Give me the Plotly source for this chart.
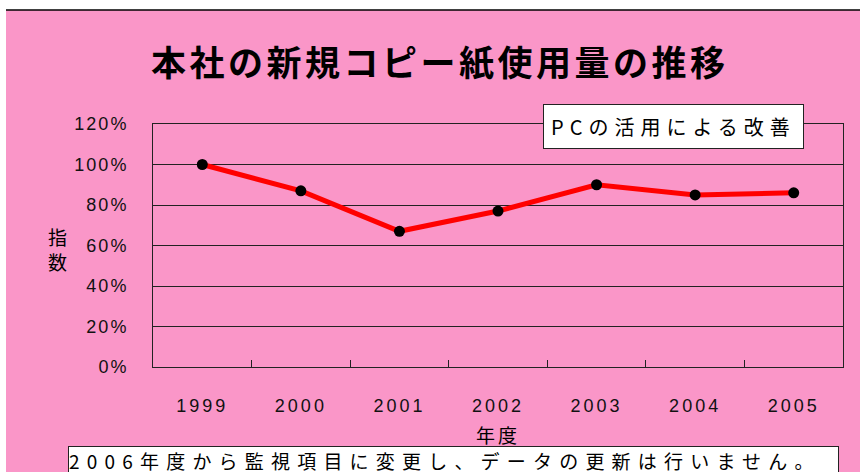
import plotly.graph_objects as go

years = ["1999", "2000", "2001", "2002", "2003", "2004", "2005"]
index_values = [1.00, 0.87, 0.67, 0.77, 0.90, 0.85, 0.86]
y_ticks = [0, 0.2, 0.4, 0.6, 0.8, 1.0, 1.2]
y_tick_labels = ["0%", "20%", "40%", "60%", "80%", "100%", "120%"]

title_text = "本社の新規コピー紙使用量の推移"
note_text = "PCの活用による改善"
footer_text = "2006年度から監視項目に変更し、データの更新は行いません。"
x_title = "年度"
y_title = "指数"

W, H = 860, 472
L, R, T, B = 153, 843, 124, 367
PINK = "#FA96C8"


def px(x):
    return (x - L) / (R - L)


def py(y):
    return (B - y) / (B - T)


def spaced(s, sp):
    return f'<span style="letter-spacing:{sp}px">{s}</span>'


fig = go.Figure()
fig.add_trace(go.Scatter(
    x=years, y=index_values, mode="lines+markers",
    line=dict(color="#FF0000", width=5),
    marker=dict(color="#000000", size=11),
    showlegend=False, hoverinfo="skip",
))

fig.update_layout(
    width=W, height=H,
    margin=dict(l=L, r=W - R, t=T, b=H - B),
    paper_bgcolor="white",
    plot_bgcolor=PINK,
    font=dict(family="Liberation Sans, Noto Sans CJK JP", color="#000000"),
    shapes=[
        dict(type="rect", xref="paper", yref="paper", layer="below",
             x0=px(6), x1=px(870), y0=py(480), y1=py(10),
             fillcolor=PINK, line=dict(width=0)),
        dict(type="line", xref="paper", yref="paper",
             x0=px(6), x1=px(870), y0=py(10), y1=py(10),
             line=dict(color="#000000", width=1.5)),
    ],
)

fig.update_xaxes(
    type="category",
    tickmode="array", tickvals=years,
    ticktext=[spaced(y, 3) for y in years],
    tickson="boundaries", ticks="inside", ticklen=7, tickcolor="#222",
    showline=True, linecolor="#222", linewidth=1, mirror=True,
    showgrid=False, zeroline=False,
    tickfont=dict(size=18, family="Liberation Sans", color="#111"),
    ticklabelstandoff=22,
    range=[-0.5, 6.5],
)
fig.update_yaxes(
    range=[0, 1.2],
    tickmode="array", tickvals=y_ticks,
    ticktext=[spaced(t, 2) for t in y_tick_labels],
    ticks="", showline=True, linecolor="#222", linewidth=1, mirror=True,
    showgrid=True, gridcolor="#222", gridwidth=1, zeroline=False,
    tickfont=dict(size=18, family="Liberation Sans", color="#111"),
    ticklabelstandoff=20,
)

fig.add_annotation(
    xref="paper", yref="paper", x=px(440), y=py(61),
    xanchor="center", yanchor="middle", showarrow=False,
    text=spaced("<b>" + title_text + "</b>", 3.5),
    font=dict(size=35, family="Noto Sans CJK JP", color="#000"),
)
fig.add_annotation(
    xref="paper", yref="paper", x=px(543), y=py(104),
    xanchor="left", yanchor="top", showarrow=False,
    text=spaced(note_text, 6), align="left",
    font=dict(size=20, family="Noto Sans CJK JP", color="#000"),
    bgcolor="white", bordercolor="#222", borderwidth=1, borderpad=7,
)
fig.add_annotation(
    xref="paper", yref="paper", x=px(498), y=py(434),
    xanchor="center", yanchor="middle", showarrow=False,
    text=spaced(x_title, 3),
    font=dict(size=19, family="Noto Sans CJK JP", color="#000"),
)
fig.add_annotation(
    xref="paper", yref="paper", x=px(57), y=py(249),
    xanchor="center", yanchor="middle", showarrow=False,
    text=y_title[0] + "<br>" + y_title[1],
    font=dict(size=19, family="Noto Sans CJK JP", color="#000"),
)
fig.add_annotation(
    xref="paper", yref="paper", x=px(68), y=py(446),
    xanchor="left", yanchor="top", showarrow=False,
    text=spaced(footer_text, 7.2), align="left", width=769,
    font=dict(size=19, family="Noto Sans CJK JP", color="#000"),
    bgcolor="white", bordercolor="#222", borderwidth=1, borderpad=0,
)

fig.write_html("out.html", config={"displayModeBar": False},
               post_script="document.body.style.margin='0';")
